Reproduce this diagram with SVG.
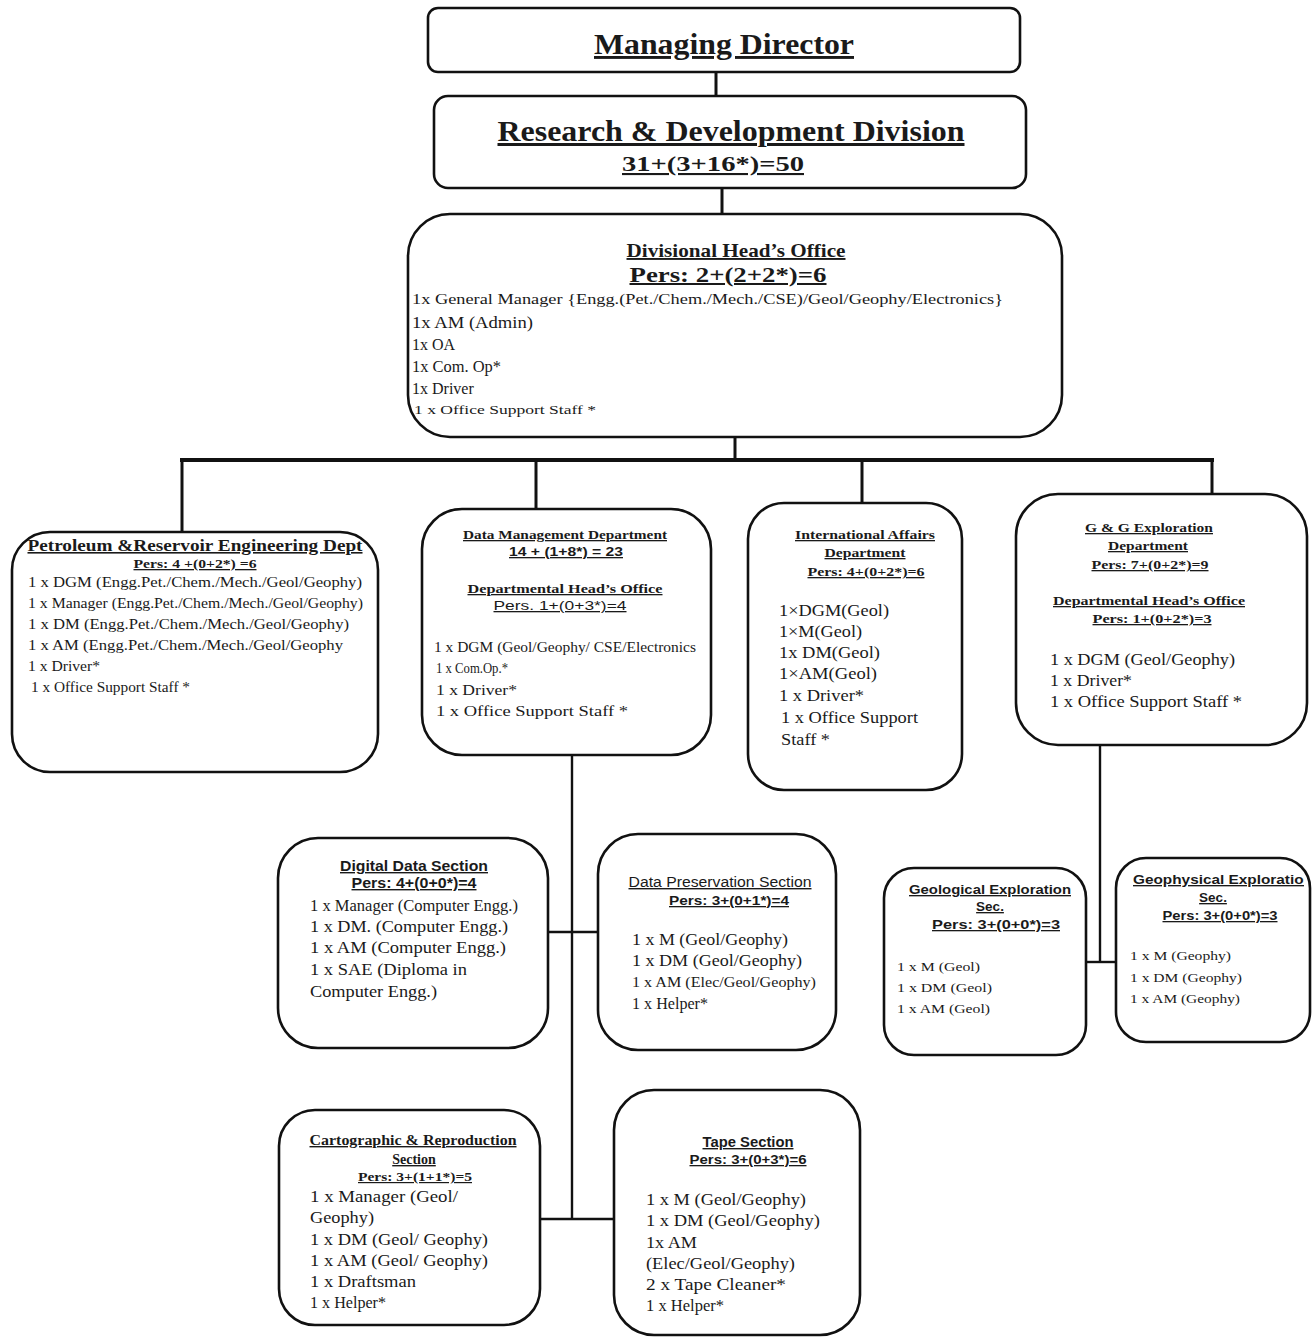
<svg xmlns="http://www.w3.org/2000/svg" width="1315" height="1337" viewBox="0 0 1315 1337">
  <style>
    .box { fill: #ffffff; stroke: #111111; stroke-width: 2.6; }
    .ln { fill: none; stroke: #111111; stroke-width: 3; }
    .t { fill: #1a1a1a; font-family: "Liberation Serif", "Times New Roman", serif; }
    .b { font-weight: bold; }
    .u { text-decoration: underline; }
    .s { font-family: "Liberation Sans", Arial, sans-serif; }
    .c { text-anchor: middle; }
  </style>
  <defs>
    <clipPath id="geoClip"><rect x="1116" y="858" width="188" height="184"/></clipPath>
  </defs>
  <rect width="1315" height="1337" fill="#ffffff"/>

  <!-- connectors -->
  <g id="connectors">
    <line class="ln" x1="716" y1="72" x2="716" y2="96"/>
    <line class="ln" x1="722" y1="188" x2="722" y2="214"/>
    <line class="ln" x1="735" y1="437" x2="735" y2="460"/>
    <line class="ln" x1="180" y1="460" x2="1214" y2="460" style="stroke-width:4"/>
    <line class="ln" x1="182" y1="460" x2="182" y2="533"/>
    <line class="ln" x1="536" y1="460" x2="536" y2="510"/>
    <line class="ln" x1="862" y1="460" x2="862" y2="504"/>
    <line class="ln" x1="1212" y1="460" x2="1212" y2="495"/>
    <!-- Data Management sections -->
    <line class="ln" x1="572" y1="755" x2="572" y2="1220" style="stroke-width:2.4"/>
    <line class="ln" x1="548" y1="932" x2="598" y2="932" style="stroke-width:2.4"/>
    <line class="ln" x1="540" y1="1219" x2="614" y2="1219" style="stroke-width:2.4"/>
    <!-- G & G sections -->
    <line class="ln" x1="1100" y1="745" x2="1100" y2="962" style="stroke-width:2.4"/>
    <line class="ln" x1="1086" y1="962" x2="1117" y2="962" style="stroke-width:2.4"/>
  </g>

  <!-- Managing Director -->
  <g id="managing-director">
    <rect class="box" x="428" y="8" width="592" height="64" rx="10"/>
    <text class="t b u c" x="724" y="54" font-size="29" textLength="260" lengthAdjust="spacingAndGlyphs">Managing Director</text>
  </g>

  <!-- Research & Development Division -->
  <g id="rnd-division">
    <rect class="box" x="434" y="96" width="592" height="92" rx="14"/>
    <text class="t b u c" x="731" y="141" font-size="30" textLength="467" lengthAdjust="spacingAndGlyphs">Research &amp; Development Division</text>
    <text class="t b u c" x="713" y="171" font-size="21" textLength="182" lengthAdjust="spacingAndGlyphs">31+(3+16*)=50</text>
  </g>

  <!-- Divisional Head's Office -->
  <g id="divisional-head-office">
    <rect class="box" x="408" y="214" width="654" height="223" rx="42"/>
    <text class="t b u c" x="736" y="257" font-size="19" textLength="219" lengthAdjust="spacingAndGlyphs">Divisional Head’s Office</text>
    <text class="t b u c" x="728" y="282" font-size="20" textLength="197" lengthAdjust="spacingAndGlyphs">Pers: 2+(2+2*)=6</text>
    <text class="t" x="412" y="304" font-size="15" textLength="591" lengthAdjust="spacingAndGlyphs">1x General Manager {Engg.(Pet./Chem./Mech./CSE)/Geol/Geophy/Electronics}</text>
    <text class="t" x="412" y="328" font-size="16" textLength="121" lengthAdjust="spacingAndGlyphs">1x AM (Admin)</text>
    <text class="t" x="412" y="350" font-size="16">1x OA</text>
    <text class="t" x="412" y="372" font-size="16" textLength="89" lengthAdjust="spacingAndGlyphs">1x Com. Op*</text>
    <text class="t" x="412" y="394" font-size="16">1x Driver</text>
    <text class="t" x="414" y="414" font-size="13" textLength="182" lengthAdjust="spacingAndGlyphs">1 x Office Support Staff *</text>
  </g>

  <!-- Petroleum & Reservoir Engineering Dept -->
  <g id="petroleum-dept">
    <rect class="box" x="12" y="532" width="366" height="240" rx="38"/>
    <text class="t b u c" x="195" y="551" font-size="16" textLength="335" lengthAdjust="spacingAndGlyphs">Petroleum &amp;Reservoir  Engineering Dept</text>
    <text class="t b u c" x="195" y="568" font-size="13" textLength="123" lengthAdjust="spacingAndGlyphs">Pers: 4 +(0+2*) =6</text>
    <text class="t" x="28" y="587" font-size="15" textLength="334" lengthAdjust="spacingAndGlyphs">1 x DGM (Engg.Pet./Chem./Mech./Geol/Geophy)</text>
    <text class="t" x="28" y="608" font-size="15" textLength="335" lengthAdjust="spacingAndGlyphs">1 x Manager (Engg.Pet./Chem./Mech./Geol/Geophy)</text>
    <text class="t" x="28" y="629" font-size="15" textLength="321" lengthAdjust="spacingAndGlyphs">1 x DM (Engg.Pet./Chem./Mech./Geol/Geophy)</text>
    <text class="t" x="28" y="650" font-size="15" textLength="315" lengthAdjust="spacingAndGlyphs">1 x AM (Engg.Pet./Chem./Mech./Geol/Geophy</text>
    <text class="t" x="28" y="671" font-size="15" textLength="72" lengthAdjust="spacingAndGlyphs">1 x Driver*</text>
    <text class="t" x="31" y="692" font-size="15" textLength="159" lengthAdjust="spacingAndGlyphs">1 x Office Support Staff *</text>
  </g>

  <!-- Data Management Department -->
  <g id="data-management-dept">
    <rect class="box" x="422" y="509" width="289" height="246" rx="40"/>
    <text class="t b u c" x="565" y="539" font-size="13" textLength="204" lengthAdjust="spacingAndGlyphs">Data Management Department</text>
    <text class="t s b u c" x="566" y="556" font-size="13" textLength="114" lengthAdjust="spacingAndGlyphs">14 + (1+8*) = 23</text>
    <text class="t b u c" x="565" y="593" font-size="13" textLength="195" lengthAdjust="spacingAndGlyphs">Departmental Head’s Office</text>
    <text class="t s u c" x="560" y="610" font-size="13" textLength="133" lengthAdjust="spacingAndGlyphs">Pers. 1+(0+3*)=4</text>
    <text class="t" x="434" y="652" font-size="14" textLength="262" lengthAdjust="spacingAndGlyphs">1 x DGM (Geol/Geophy/ CSE/Electronics</text>
    <text class="t" x="436" y="673" font-size="15" textLength="72" lengthAdjust="spacingAndGlyphs">1 x Com.Op.*</text>
    <text class="t" x="436" y="695" font-size="15" textLength="81" lengthAdjust="spacingAndGlyphs">1 x Driver*</text>
    <text class="t" x="436" y="716" font-size="15" textLength="192" lengthAdjust="spacingAndGlyphs">1 x Office Support Staff *</text>
  </g>

  <!-- International Affairs Department -->
  <g id="international-affairs-dept">
    <rect class="box" x="748" y="503" width="214" height="287" rx="36"/>
    <text class="t b u c" x="865" y="539" font-size="13" textLength="140" lengthAdjust="spacingAndGlyphs">International Affairs</text>
    <text class="t b u c" x="865" y="557" font-size="13" textLength="81" lengthAdjust="spacingAndGlyphs">Department</text>
    <text class="t b u c" x="866" y="576" font-size="13" textLength="117" lengthAdjust="spacingAndGlyphs">Pers: 4+(0+2*)=6</text>
    <text class="t" x="779" y="616" font-size="16" textLength="110" lengthAdjust="spacingAndGlyphs">1×DGM(Geol)</text>
    <text class="t" x="779" y="637" font-size="16" textLength="83" lengthAdjust="spacingAndGlyphs">1×M(Geol)</text>
    <text class="t" x="779" y="658" font-size="16" textLength="101" lengthAdjust="spacingAndGlyphs">1x DM(Geol)</text>
    <text class="t" x="779" y="679" font-size="16" textLength="98" lengthAdjust="spacingAndGlyphs">1×AM(Geol)</text>
    <text class="t" x="779" y="701" font-size="16" textLength="85" lengthAdjust="spacingAndGlyphs">1 x Driver*</text>
    <text class="t" x="781" y="723" font-size="16" textLength="137" lengthAdjust="spacingAndGlyphs">1 x Office Support</text>
    <text class="t" x="781" y="745" font-size="16" textLength="49" lengthAdjust="spacingAndGlyphs">Staff *</text>
  </g>

  <!-- G & G Exploration Department -->
  <g id="gg-exploration-dept">
    <rect class="box" x="1016" y="494" width="291" height="251" rx="42"/>
    <text class="t b u c" x="1149" y="532" font-size="13" textLength="128" lengthAdjust="spacingAndGlyphs">G &amp; G Exploration</text>
    <text class="t b u c" x="1148" y="550" font-size="13" textLength="80" lengthAdjust="spacingAndGlyphs">Department</text>
    <text class="t b u c" x="1150" y="569" font-size="13" textLength="117" lengthAdjust="spacingAndGlyphs">Pers: 7+(0+2*)=9</text>
    <text class="t b u c" x="1149" y="605" font-size="13" textLength="192" lengthAdjust="spacingAndGlyphs">Departmental Head’s Office</text>
    <text class="t b u c" x="1152" y="623" font-size="13" textLength="119" lengthAdjust="spacingAndGlyphs">Pers: 1+(0+2*)=3</text>
    <text class="t" x="1050" y="665" font-size="16" textLength="185" lengthAdjust="spacingAndGlyphs">1 x DGM (Geol/Geophy)</text>
    <text class="t" x="1050" y="686" font-size="16" textLength="82" lengthAdjust="spacingAndGlyphs">1 x Driver*</text>
    <text class="t" x="1050" y="707" font-size="16" textLength="192" lengthAdjust="spacingAndGlyphs">1 x Office Support Staff *</text>
  </g>

  <!-- Digital Data Section -->
  <g id="digital-data-section">
    <rect class="box" x="278" y="838" width="270" height="210" rx="40"/>
    <text class="t s b u c" x="414" y="871" font-size="14" textLength="148" lengthAdjust="spacingAndGlyphs">Digital Data Section</text>
    <text class="t s b u c" x="414" y="888" font-size="14" textLength="125" lengthAdjust="spacingAndGlyphs">Pers: 4+(0+0*)=4</text>
    <text class="t" x="310" y="911" font-size="16" textLength="208" lengthAdjust="spacingAndGlyphs">1 x Manager (Computer Engg.)</text>
    <text class="t" x="310" y="932" font-size="16" textLength="198" lengthAdjust="spacingAndGlyphs">1 x DM. (Computer Engg.)</text>
    <text class="t" x="310" y="953" font-size="16" textLength="196" lengthAdjust="spacingAndGlyphs">1 x AM (Computer Engg.)</text>
    <text class="t" x="310" y="975" font-size="16" textLength="157" lengthAdjust="spacingAndGlyphs">1 x SAE (Diploma in</text>
    <text class="t" x="310" y="997" font-size="16" textLength="127" lengthAdjust="spacingAndGlyphs">Computer Engg.)</text>
  </g>

  <!-- Data Preservation Section -->
  <g id="data-preservation-section">
    <rect class="box" x="598" y="834" width="238" height="216" rx="40"/>
    <text class="t s u c" x="720" y="887" font-size="14" textLength="183" lengthAdjust="spacingAndGlyphs">Data Preservation Section</text>
    <text class="t s b u c" x="729" y="905" font-size="13" textLength="120" lengthAdjust="spacingAndGlyphs">Pers: 3+(0+1*)=4</text>
    <text class="t" x="632" y="945" font-size="16" textLength="156" lengthAdjust="spacingAndGlyphs">1 x M (Geol/Geophy)</text>
    <text class="t" x="632" y="966" font-size="16" textLength="170" lengthAdjust="spacingAndGlyphs">1 x DM (Geol/Geophy)</text>
    <text class="t" x="632" y="987" font-size="15" textLength="184" lengthAdjust="spacingAndGlyphs">1 x AM (Elec/Geol/Geophy)</text>
    <text class="t" x="632" y="1009" font-size="16" textLength="76" lengthAdjust="spacingAndGlyphs">1 x Helper*</text>
  </g>

  <!-- Geological Exploration Section -->
  <g id="geological-exploration-section">
    <rect class="box" x="884" y="868" width="202" height="187" rx="30"/>
    <text class="t s b u c" x="990" y="894" font-size="13.5" textLength="162" lengthAdjust="spacingAndGlyphs">Geological Exploration</text>
    <text class="t s b u c" x="990" y="911" font-size="13.5">Sec.</text>
    <text class="t s b u c" x="996" y="929" font-size="13" textLength="128" lengthAdjust="spacingAndGlyphs">Pers: 3+(0+0*)=3</text>
    <text class="t" x="897" y="971" font-size="13" textLength="83" lengthAdjust="spacingAndGlyphs">1 x M (Geol)</text>
    <text class="t" x="897" y="992" font-size="13" textLength="95" lengthAdjust="spacingAndGlyphs">1 x DM (Geol)</text>
    <text class="t" x="897" y="1013" font-size="13" textLength="93" lengthAdjust="spacingAndGlyphs">1 x AM (Geol)</text>
  </g>

  <!-- Geophysical Exploration Section -->
  <g id="geophysical-exploration-section">
    <rect class="box" x="1116" y="858" width="194" height="184" rx="30"/>
    <g clip-path="url(#geoClip)">
      <text class="t s b u" x="1133" y="884" font-size="13.5" textLength="180" lengthAdjust="spacingAndGlyphs">Geophysical Exploration</text>
    </g>
    <text class="t s b u c" x="1213" y="902" font-size="13.5">Sec.</text>
    <text class="t s b u c" x="1220" y="920" font-size="13" textLength="115" lengthAdjust="spacingAndGlyphs">Pers: 3+(0+0*)=3</text>
    <text class="t" x="1130" y="960" font-size="13" textLength="101" lengthAdjust="spacingAndGlyphs">1 x M (Geophy)</text>
    <text class="t" x="1130" y="982" font-size="13" textLength="112" lengthAdjust="spacingAndGlyphs">1 x DM (Geophy)</text>
    <text class="t" x="1130" y="1003" font-size="13" textLength="110" lengthAdjust="spacingAndGlyphs">1 x AM (Geophy)</text>
  </g>

  <!-- Cartographic & Reproduction Section -->
  <g id="cartographic-section">
    <rect class="box" x="279" y="1110" width="261" height="215" rx="36"/>
    <text class="t b u c" x="413" y="1145" font-size="14" textLength="207" lengthAdjust="spacingAndGlyphs">Cartographic &amp; Reproduction</text>
    <text class="t b u c" x="414" y="1164" font-size="14">Section</text>
    <text class="t b u c" x="415" y="1181" font-size="12" textLength="114" lengthAdjust="spacingAndGlyphs">Pers: 3+(1+1*)=5</text>
    <text class="t" x="310" y="1202" font-size="16" textLength="148" lengthAdjust="spacingAndGlyphs">1 x Manager (Geol/</text>
    <text class="t" x="310" y="1223" font-size="16" textLength="64" lengthAdjust="spacingAndGlyphs">Geophy)</text>
    <text class="t" x="310" y="1245" font-size="16" textLength="178" lengthAdjust="spacingAndGlyphs">1 x DM (Geol/ Geophy)</text>
    <text class="t" x="310" y="1266" font-size="16" textLength="178" lengthAdjust="spacingAndGlyphs">1 x AM (Geol/ Geophy)</text>
    <text class="t" x="310" y="1287" font-size="16" textLength="106" lengthAdjust="spacingAndGlyphs">1 x Draftsman</text>
    <text class="t" x="310" y="1308" font-size="16" textLength="76" lengthAdjust="spacingAndGlyphs">1 x Helper*</text>
  </g>

  <!-- Tape Section -->
  <g id="tape-section">
    <rect class="box" x="614" y="1090" width="246" height="245" rx="40"/>
    <text class="t s b u c" x="748" y="1147" font-size="14" textLength="91" lengthAdjust="spacingAndGlyphs">Tape Section</text>
    <text class="t s b u c" x="748" y="1164" font-size="13" textLength="117" lengthAdjust="spacingAndGlyphs">Pers: 3+(0+3*)=6</text>
    <text class="t" x="646" y="1205" font-size="16" textLength="160" lengthAdjust="spacingAndGlyphs">1 x M (Geol/Geophy)</text>
    <text class="t" x="646" y="1226" font-size="16" textLength="174" lengthAdjust="spacingAndGlyphs">1 x DM (Geol/Geophy)</text>
    <text class="t" x="646" y="1248" font-size="16" textLength="51" lengthAdjust="spacingAndGlyphs">1x AM</text>
    <text class="t" x="646" y="1269" font-size="16" textLength="149" lengthAdjust="spacingAndGlyphs">(Elec/Geol/Geophy)</text>
    <text class="t" x="646" y="1290" font-size="16" textLength="140" lengthAdjust="spacingAndGlyphs">2 x Tape Cleaner*</text>
    <text class="t" x="646" y="1311" font-size="16" textLength="78" lengthAdjust="spacingAndGlyphs">1 x Helper*</text>
  </g>
</svg>
